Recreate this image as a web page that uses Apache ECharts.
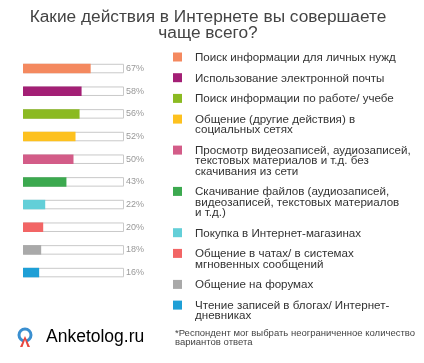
<!DOCTYPE html>
<html><head><meta charset="utf-8">
<script src="https://cdn.jsdelivr.net/npm/echarts@6/dist/echarts.min.js"></script>
<style>html,body{margin:0;padding:0;background:#fff}#c{width:424px;height:363px}</style>
</head><body><div id="c"></div>
<script>
var categories = [
  "Поиск информации для личных нужд",
  "Использование электронной почты",
  "Поиск информации по работе/ учебе",
  "Общение (другие действия) в\nсоциальных сетях",
  "Просмотр видеозаписей, аудиозаписей,\nтекстовых материалов и т.д. без\nскачивания из сети",
  "Скачивание файлов (аудиозаписей,\nвидеозаписей, текстовых материалов\nи т.д.)",
  "Покупка в Интернет-магазинах",
  "Общение в чатах/ в системах\nмгновенных сообщений",
  "Общение на форумах",
  "Чтение записей в блогах/ Интернет-\nдневниках"
];
var values = [67, 58, 56, 52, 50, 43, 22, 20, 18, 16];
var colors = ["#F4895F","#A31F75","#8BBA22","#FDC11F","#D35C88","#3CA94F","#63CFD8","#F26565","#A9A9A9","#1E9FD6"];
var trackMax = 100;

var chart = echarts.init(document.getElementById('c'));
var font = "'Liberation Sans', Arial, sans-serif";

// legend (category descriptions) built from categories + colors
var graphics = [];
var lineH = 10.3, gap = 10.4, y = 57;
categories.forEach(function (name, i) {
  var n = name.split("\n").length;
  graphics.push({type:'rect', left:173, top:y-4.5, shape:{width:9,height:9}, style:{fill:colors[i]}});
  graphics.push({type:'text', left:195, top:y-lineH/2, style:{text:name, font:"11.6px " + font, fill:"#333", lineHeight:lineH}});
  y += n*lineH + gap;
});
// footnote
graphics.push({type:'text', left:175, top:328, style:{text:"*Респондент мог выбрать неограниченное количество\nвариантов ответа", font:"9.5px " + font, fill:"#444", lineHeight:9.5}});
// logo
graphics.push({type:'circle', shape:{cx:25, cy:335, r:6}, style:{fill:'none', stroke:'#3A8FD0', lineWidth:3}});
graphics.push({type:'polygon', shape:{points:[[25,336],[20,347],[30,347]]}, style:{fill:'#E9473F'}});
graphics.push({type:'polygon', shape:{points:[[25,340],[22.5,347],[27.5,347]]}, style:{fill:'#fff'}});
graphics.push({type:'text', left:46, top:328, style:{text:"{a|Anketolog}{b|.ru}", font:"17.5px " + font,
  rich:{a:{fontSize:17.5, fontFamily:font, color:"#555"}, b:{fontSize:17.5, fontFamily:font, color:"#bbb"}}}});

chart.setOption({
  animation:false,
  backgroundColor:'#fff',
  title:{text:"Какие действия в Интернете вы совершаете\nчаще всего?", left:203, textAlign:'center', top:4, itemGap:0,
    textStyle:{fontFamily:font, fontSize:17.3, fontWeight:'normal', color:'#444', lineHeight:16}},
  grid:{left:23, width:101, top:57.2, height:226.7},
  xAxis:{type:'value', min:0, max:trackMax, show:false},
  yAxis:{type:'category', data:categories, inverse:true, show:false},
  graphic:graphics,
  series:[
    {type:'bar', barWidth:9.5, data:categories.map(function(){return trackMax;}),
     itemStyle:{color:'#fff', borderColor:'#c9c9c9', borderWidth:1},
     label:{show:true, position:'right', distance:2, fontFamily:font, fontSize:9, color:'#999',
       formatter:function(p){return values[p.dataIndex] + '%';}},
     silent:true, z:1},
    {type:'bar', barWidth:9.5, barGap:'-100%', data:values,
     itemStyle:{color:function(p){return colors[p.dataIndex];}}, z:2}
  ]
});
</script></body></html>
